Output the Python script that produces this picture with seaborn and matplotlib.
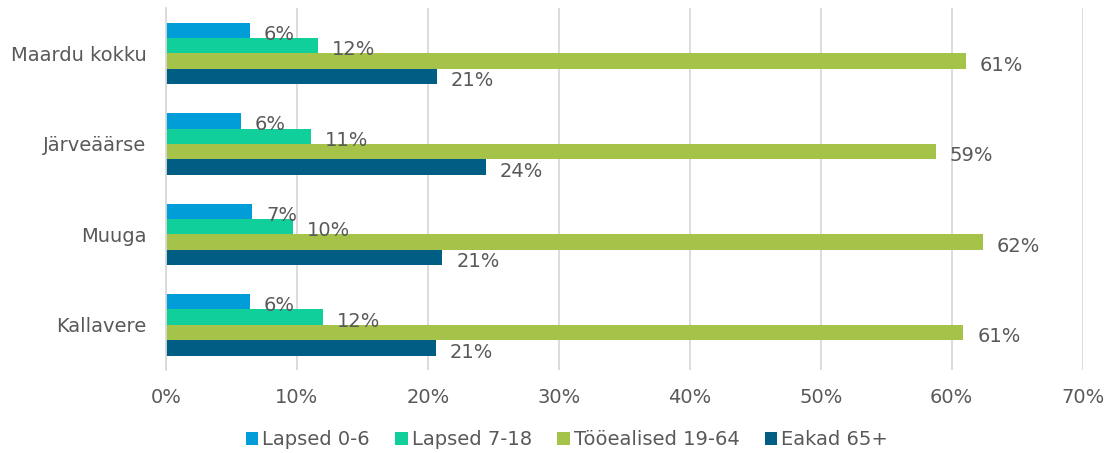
import pandas as pd
import matplotlib
matplotlib.use('Agg')
import matplotlib.pyplot as plt
import seaborn as sns

# =============================================================================
# Data (percent of population)
# =============================================================================

areas = ['Maardu kokku', 'Järveäärse', 'Muuga', 'Kallavere']
groups = ['Lapsed 0-6', 'Lapsed 7-18', 'Tööealised 19-64', 'Eakad 65+']

lapsed_0_6 = [6.4, 5.7, 6.6, 6.4]
lapsed_7_18 = [11.6, 11.1, 9.7, 12.0]
tooealised = [61.1, 58.8, 62.4, 60.9]
eakad = [20.7, 24.4, 21.1, 20.6]

x_ticks = [0, 10, 20, 30, 40, 50, 60, 70]

colors = ['#009DD9', '#10CF9B', '#A5C249', '#005E85']
text_color = '#595959'

# long format for seaborn
rows = []
for name, vals in zip(groups, [lapsed_0_6, lapsed_7_18, tooealised, eakad]):
    for area, v in zip(areas, vals):
        rows.append({'area': area, 'group': name, 'value': v})
df = pd.DataFrame(rows)

# =============================================================================
# Plot
# =============================================================================

sns.set_theme(style='white')
plt.rcParams['font.family'] = ['DejaVu Sans']

fig = plt.figure(figsize=(11.07, 4.53), dpi=100)
ax = fig.add_axes([0.15, 0.183, 0.828, 0.799])

sns.barplot(data=df, y='area', x='value', hue='group', order=areas,
            hue_order=groups, palette=dict(zip(groups, colors)),
            orient='h', width=0.68, linewidth=0, saturation=1,
            errorbar=None, ax=ax)

# data labels
for cont in ax.containers:
    for bar in cont:
        w = bar.get_width()
        ax.annotate(f'{round(w)}%', (w, bar.get_y() + bar.get_height() / 2),
                    xytext=(10, -3), textcoords='offset points',
                    ha='left', va='center', fontsize=14, color=text_color)

ax.set_xlim(0, 70)
ax.set_ylim(3.5, -0.5)
ax.set_xticks(x_ticks)
ax.set_xticklabels([f'{t}%' for t in x_ticks])
ax.set_xlabel('')
ax.set_ylabel('')
ax.grid(axis='x', color='#D9D9D9', linewidth=1.3)
ax.set_axisbelow(True)
for s in ['top', 'right', 'bottom']:
    ax.spines[s].set_visible(False)
ax.spines['left'].set_color('#D9D9D9')
ax.spines['left'].set_linewidth(1.3)
ax.tick_params(axis='y', length=0, pad=14, labelsize=14, labelcolor=text_color)
ax.tick_params(axis='x', length=0, pad=13, labelsize=14, labelcolor=text_color)

# legend at the bottom
handles, labels = ax.get_legend_handles_labels()
ax.get_legend().remove()
fig.legend(handles, labels, loc='center', bbox_to_anchor=(0.512, 0.03),
           ncol=4, frameon=False, fontsize=14, labelcolor=text_color,
           handlelength=0.65, handleheight=0.65, handletextpad=0.2,
           columnspacing=1.3)

plt.savefig('out.png', dpi=100)
